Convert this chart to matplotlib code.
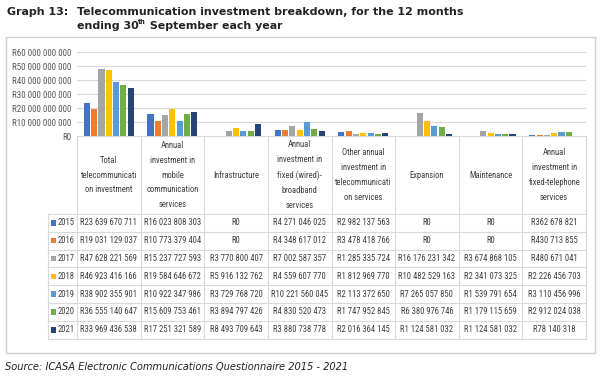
import numpy as np
import matplotlib
matplotlib.use('Agg')
import matplotlib.pyplot as plt
from matplotlib.patches import Rectangle
from matplotlib import font_manager

# values (Rand)
categories = ["Total\ntelecommunicati\non investment",
              "Annual\ninvestment in\nmobile\ncommunication\nservices",
              "Infrastructure",
              "Annual\ninvestment in\nfixed (wired)-\nbroadband\nservices",
              "Other annual\ninvestment in\ntelecommunicati\non services",
              "Expansion",
              "Maintenance",
              "Annual\ninvestment in\nfixed-telephone\nservices"]
years = ["2015", "2016", "2017", "2018", "2019", "2020", "2021"]
v2015 = [23639670711, 16023808303, 0, 4271046025, 2982137563, 0, 0, 362678821]
v2016 = [19031129037, 10773379404, 0, 4348617012, 3478418766, 0, 0, 430713855]
v2017 = [47628221569, 15237727593, 3770800407, 7002587357, 1285335724, 16176231342, 3674868105, 480671041]
v2018 = [46923416166, 19584646672, 5916132762, 4559607770, 1812969770, 10482529163, 2341073325, 2226456703]
v2019 = [38902355901, 10922347986, 3729768720, 10221560045, 2113372650, 7265057850, 1539791654, 3110456996]
v2020 = [36555140647, 15609753461, 3894797426, 4830520473, 1747952845, 6380976746, 1179115659, 2912024038]
v2021 = [33969436538, 17251321589, 8493709643, 3880738778, 2016364145, 1124581032, 1124581032, 78140318]
series = [v2015, v2016, v2017, v2018, v2019, v2020, v2021]
colors = ['#4472C4', '#ED7D31', '#A5A5A5', '#FFC000', '#5B9BD5', '#70AD47', '#264478']
yticks = np.arange(0, 60e9 + 1, 10e9)

W, H = 602, 376
txtcol = '#404040'
gridcol = '#D9D9D9'
titlecol = '#222222'

# the table uses a narrow (Calibri-like) face; take a condensed one if there is one
names = {(f.name, f.stretch) for f in font_manager.fontManager.ttflist}
tfont = dict(family='Liberation Sans')
for nm in ['Liberation Sans Narrow', 'DejaVu Sans Condensed', 'Roboto Condensed', 'Open Sans Condensed']:
    if any(n == nm for n, s in names):
        tfont = dict(family=nm)
        break
else:
    if ('DejaVu Sans', 'condensed') in names:
        tfont = dict(family='DejaVu Sans', stretch='condensed')

def rands(v):
    return 'R' + f'{int(v):,}'.replace(',', ' ')

fig = plt.figure(figsize=(W / 100, H / 100), dpi=100)
rend = fig.canvas.get_renderer()

def width_at10(s, **kw):
    t = fig.text(0, 0, s, fontsize=10, **kw)
    w = t.get_window_extent(rend).width
    t.remove()
    return w

def fit_size(s, px, cap, **kw):
    return min(cap, 10 * px / width_at10(s, **kw))

tsize = fit_size("R47 628 221 569", 57, 6.8, **tfont)
ysize = fit_size("R60 000 000 000", 59, 6.8, **tfont)
line1 = "Telecommunication investment breakdown, for the 12 months"
hsize = fit_size(line1, 384, 9, fontweight='bold')

# overlay in pixel coords for frame, title and table
ov = fig.add_axes([0, 0, 1, 1])
ov.set_xlim(0, W)
ov.set_ylim(H, 0)
ov.axis('off')

ov.add_patch(Rectangle((6, 37), 589, 316, fill=False, ec='#D0D0D0', lw=1))
ov.text(7, 12, "Graph 13:", fontsize=hsize, fontweight='bold', va='center', color=titlecol)
ov.text(77, 12, line1, fontsize=hsize, fontweight='bold', va='center', color=titlecol)
# second line with superscript "th" built from pieces
px = 77
for s, sz, dy in [("ending 30", hsize, 0), ("th", hsize * 0.6, -3.5), (" September each year", hsize, 0)]:
    ov.text(px, 26 + dy, s, fontsize=sz, fontweight='bold', va='center', color=titlecol)
    px += width_at10(s, fontweight='bold') * sz / 10
ov.text(5, 367, "Source: ICASA Electronic Communications Questionnaire 2015 - 2021",
        fontsize=7.1, style='italic', va='center', color=titlecol)

# bar chart
x0, x1 = 77, 586
ytop, y0 = 52, 136
ax = fig.add_axes([x0 / W, (H - y0) / H, (x1 - x0) / W, (y0 - ytop) / H])
ax.set_xlim(-0.5, len(categories) - 0.5)
ax.set_ylim(0, 60e9)
x = np.arange(len(categories))
for j, vals in enumerate(series):
    ax.bar(x + (j - 3) * 0.115, vals, width=0.095, color=colors[j], zorder=3)
ax.set_yticks(yticks)
ax.set_yticklabels([rands(t) for t in yticks], fontsize=ysize, color='#595959', **tfont)
ax.tick_params(axis='y', length=0, pad=4)
ax.set_xticks([])
ax.grid(axis='y', color=gridcol, lw=0.8, zorder=0)
for s in ax.spines.values():
    s.set_visible(False)

# data table
colw = (x1 - x0) / len(categories)
hdr_bot = 214
rowh = 17.8
tab_bot = hdr_bot + rowh * len(years)
rowx = 48
for i in range(len(categories) + 1):
    ov.plot([x0 + i * colw] * 2, [y0, tab_bot], color=gridcol, lw=0.8)
ov.plot([rowx, rowx], [hdr_bot, tab_bot], color=gridcol, lw=0.8)
ov.plot([x0, x1], [y0, y0], color=gridcol, lw=0.8)
for r in range(len(years) + 1):
    yy = hdr_bot + r * rowh
    ov.plot([rowx, x1], [yy, yy], color=gridcol, lw=0.8)

for i, cat in enumerate(categories):
    ov.text(x0 + (i + 0.5) * colw, (y0 + hdr_bot) / 2, cat, ha='center', va='center',
            fontsize=tsize, color=txtcol, linespacing=1.85, **tfont)

for r, yr in enumerate(years):
    yc = hdr_bot + (r + 0.5) * rowh
    ov.add_patch(Rectangle((rowx + 3, yc - 2.8), 5, 5.6, color=colors[r], lw=0))
    ov.text(rowx + 10, yc, yr, ha='left', va='center', fontsize=tsize, color=txtcol, **tfont)
    for i, v in enumerate(series[r]):
        ov.text(x0 + (i + 0.5) * colw, yc, rands(v), ha='center', va='center',
                fontsize=tsize, color=txtcol, **tfont)

fig.savefig('out.png', dpi=100)
